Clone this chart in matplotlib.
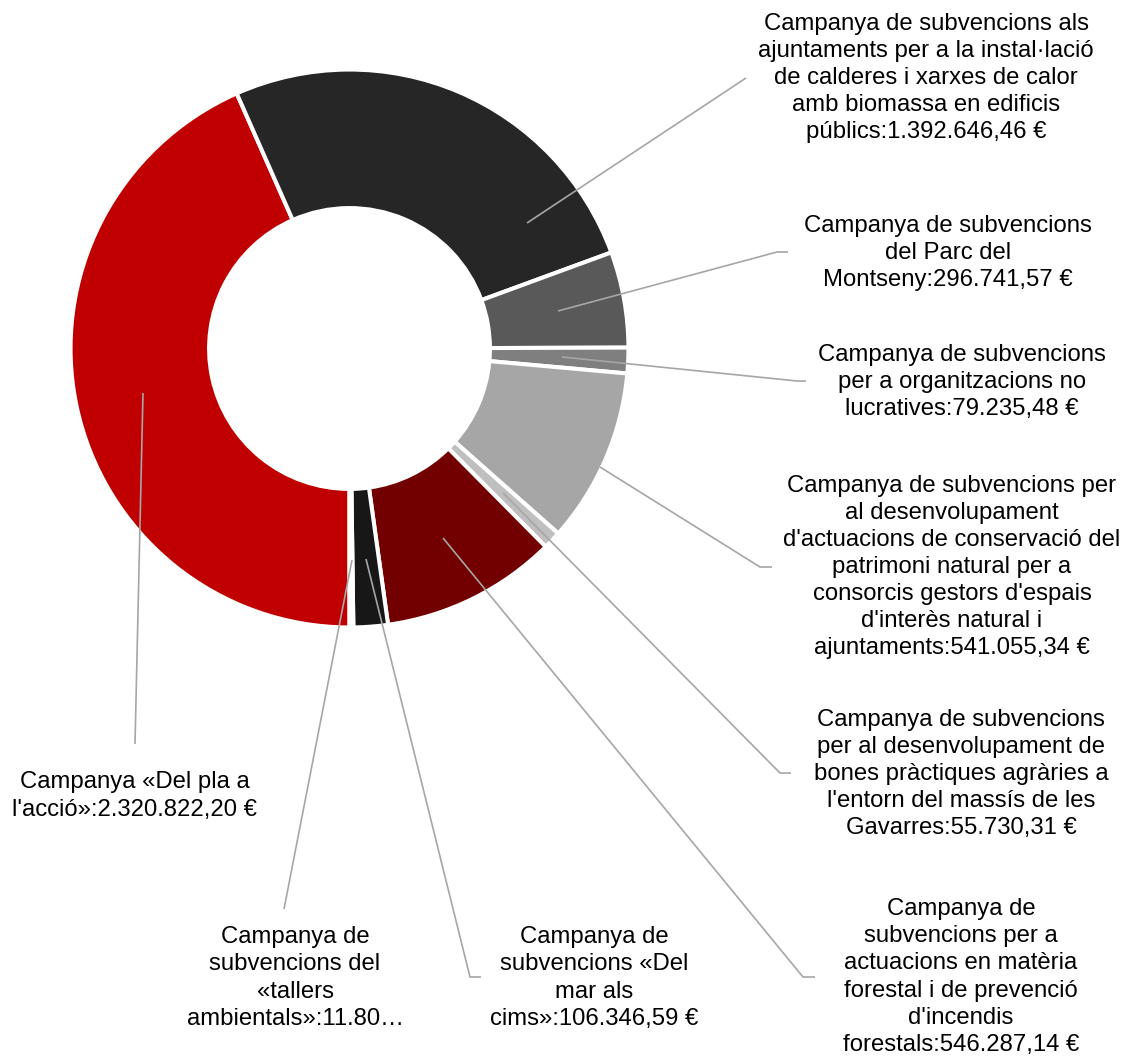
import matplotlib
matplotlib.use("Agg")
import matplotlib.pyplot as plt

plt.rcParams['font.family'] = ['Liberation Sans', 'DejaVu Sans']

# data (clockwise from the bottom of the ring)
labels = [
    "Campanya «Del pla a\nl'acció»:2.320.822,20 €",
    "Campanya de subvencions als\najuntaments per a la instal·lació\nde calderes i xarxes de calor\namb biomassa en edificis\npúblics:1.392.646,46 €",
    "Campanya de subvencions\ndel Parc del\nMontseny:296.741,57 €",
    "Campanya de subvencions\nper a organitzacions no\nlucratives:79.235,48 €",
    "Campanya de subvencions per\nal desenvolupament\nd'actuacions de conservació del\npatrimoni natural per a\nconsorcis gestors d'espais\nd'interès natural i\najuntaments:541.055,34 €",
    "Campanya de subvencions\nper al desenvolupament de\nbones pràctiques agràries a\nl'entorn del massís de les\nGavarres:55.730,31 €",
    "Campanya de\nsubvencions per a\nactuacions en matèria\nforestal i de prevenció\nd'incendis\nforestals:546.287,14 €",
    "Campanya de\nsubvencions «Del\nmar als\ncims»:106.346,59 €",
    "Campanya de\nsubvencions del\n«tallers\nambientals»:11.80…",
]
values = [2320822.20, 1392646.46, 296741.57, 79235.48, 541055.34,
          55730.31, 546287.14, 106346.59, 11800.00]
colors = ['#c00000', '#262626', '#595959', '#7f7f7f', '#a6a6a6',
          '#bfbfbf', '#720000', '#171717', '#ffffff']

# layout in pixels of the 1125x1059 canvas
W, H = 1125, 1059
CX, CY, S = 349.5, 348.5, 277.0
label_pos = [(135, 796), (926, 78), (948, 253), (962, 382), (952, 567),
             (961, 774), (961, 977), (594, 978), (295, 978)]
leaders = [
    [(143, 393), (135, 744)],
    [(527, 223), (746, 78)],
    [(558, 311), (777, 252), (788, 252)],
    [(562, 357), (797, 381), (806, 381)],
    [(600, 467), (760, 567), (772, 567)],
    [(503, 493), (780, 773), (791, 773)],
    [(443, 538), (803, 977), (815, 977)],
    [(366, 559), (470, 977), (481, 977)],
    [(352, 560), (284, 909)],
]


def px(x, y):
    return (x - CX) / S, (CY - y) / S


fig = plt.figure(figsize=(W / 100, H / 100), dpi=100)
ax = fig.add_axes([0, 0, 1, 1])

ax.pie(values, colors=colors, startangle=-90, counterclock=False,
       radius=1.007,
       wedgeprops=dict(width=0.5, edgecolor='white', linewidth=2.9))

ax.set_xlim(-CX / S, (W - CX) / S)
ax.set_ylim(-(H - CY) / S, CY / S)
ax.set_aspect('equal')
ax.axis('off')

for pts in leaders:
    xs = [px(*p)[0] for p in pts]
    ys = [px(*p)[1] for p in pts]
    ax.plot(xs, ys, color='#a6a6a6', lw=1.2, solid_capstyle='butt')

for lab, (x, y) in zip(labels, label_pos):
    tx, ty = px(x, y)
    ax.text(tx, ty, lab, ha='center', va='center', multialignment='center',
            fontsize=17.2, linespacing=1.3, color='black')

fig.savefig('out.png', dpi=100)
